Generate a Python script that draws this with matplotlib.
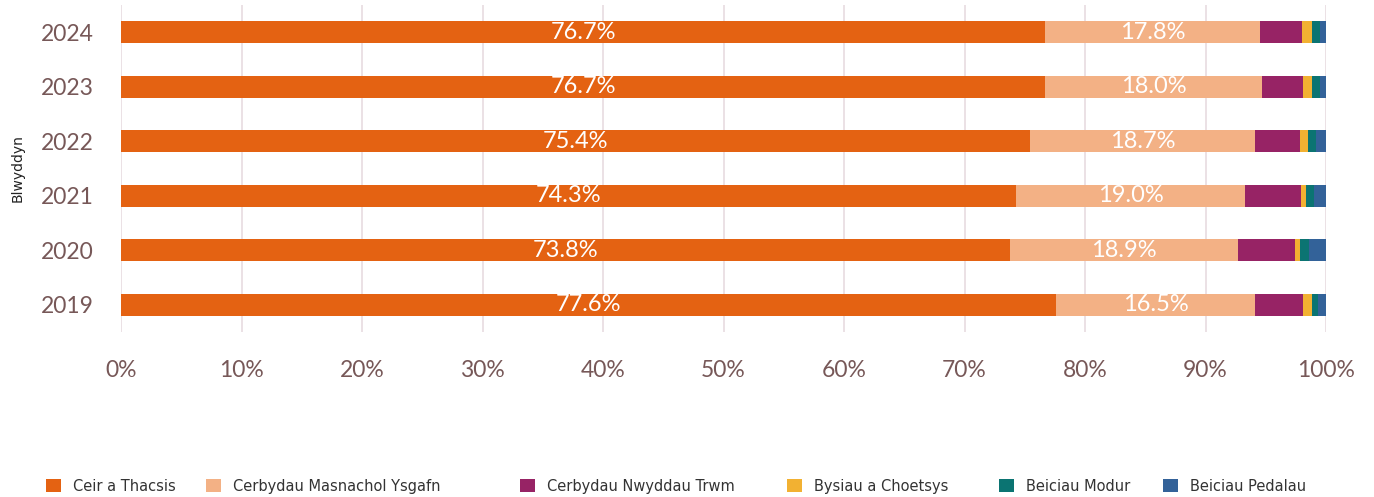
import matplotlib
matplotlib.use('Agg')
import matplotlib.pyplot as plt
import numpy as np
from matplotlib.patches import Patch

# Share of vehicle type by year (%)
years = ['2019', '2020', '2021', '2022', '2023', '2024']
categories = ['Ceir a Thacsis', 'Cerbydau Masnachol Ysgafn', 'Cerbydau Nwyddau Trwm',
              'Bysiau a Choetsys', 'Beiciau Modur', 'Beiciau Pedalau']
ceir = [77.6, 73.8, 74.3, 75.4, 76.7, 76.7]
masnachol = [16.5, 18.9, 19.0, 18.7, 18.0, 17.8]
nwyddau = [4.0, 4.7, 4.6, 3.7, 3.4, 3.5]
bysiau = [0.7, 0.4, 0.4, 0.7, 0.7, 0.8]
modur = [0.5, 0.8, 0.7, 0.7, 0.7, 0.7]
pedalau = [0.7, 1.4, 1.0, 0.8, 0.5, 0.5]

series = [ceir, masnachol, nwyddau, bysiau, modur, pedalau]
colors = ['#E46212', '#F3B185', '#972365', '#F2B132', '#0B7472', '#336299']
# only the two biggest groups get value labels
labelled = [True, True, False, False, False, False]

fig = plt.figure(figsize=(13.74, 4.97), dpi=100)
ax = fig.add_axes([0.0881, 0.332, 0.877, 0.658])

tick_color = '#775858'
ypos = np.arange(len(years))
left = np.zeros(len(years))
for vals, col, lab in zip(series, colors, labelled):
    vals = np.array(vals)
    ax.barh(ypos, vals, left=left, height=0.4, color=col, zorder=3)
    if lab:
        for y, l, v in zip(ypos, left, vals):
            ax.text(l + v / 2, y, f'{v:.1f}%', ha='center', va='center',
                    color='white', fontsize=17, family='Lato', zorder=4)
    left += vals

ax.set_xlim(0, 100)
ax.set_ylim(-0.5, 5.5)
ax.set_xticks(np.arange(0, 101, 10))
ax.set_xticklabels([f'{t}%' for t in range(0, 101, 10)])
ax.set_yticks(ypos)
ax.set_yticklabels(years)
ax.tick_params(axis='both', length=0, labelsize=16.5, labelcolor=tick_color)
ax.tick_params(axis='x', pad=20)
ax.tick_params(axis='y', pad=20)
for lbl in ax.get_xticklabels() + ax.get_yticklabels():
    lbl.set_family('Lato')

ax.grid(axis='x', color='#E8DCE0', linewidth=1.2, zorder=0)
for s in ax.spines.values():
    s.set_visible(False)

ax.set_ylabel('Blwyddyn', fontsize=10, color='#222222')
ax.yaxis.set_label_coords(-0.08, 0.5)

# legend entries spread along the bottom
legend_x = [0.0238, 0.1403, 0.369, 0.5633, 0.7176, 0.8368]
for cat, col, lx in zip(categories, colors, legend_x):
    fig.legend([Patch(facecolor=col)], [cat], loc='center left',
               bbox_to_anchor=(lx, 0.022), frameon=False, fontsize=10.5,
               handlelength=1.03, handleheight=1.03, handletextpad=0.82,
               labelcolor='#333333')

fig.savefig('out.png', dpi=100)
